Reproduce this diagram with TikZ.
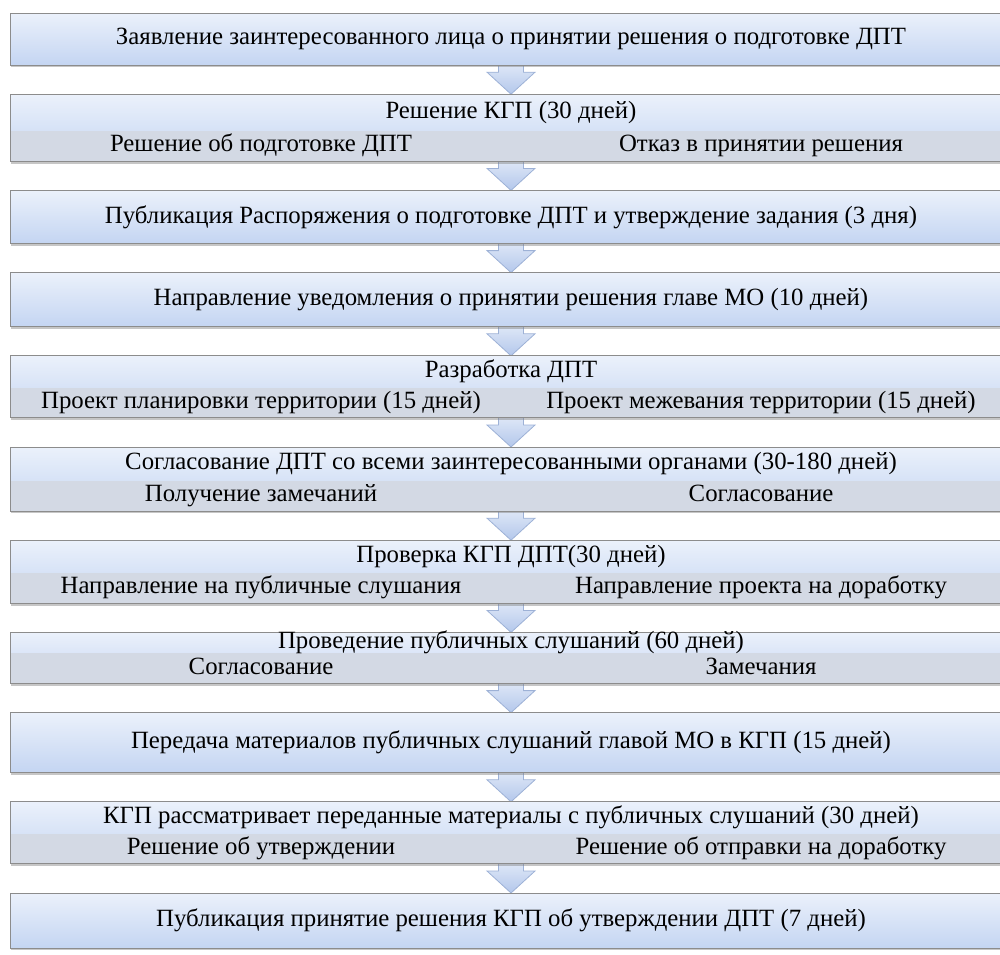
\documentclass[tikz,border=0pt]{standalone}
\usepackage{fontspec}
\setmainfont{Liberation Serif}
\usetikzlibrary{positioning,calc,shadows}
\pgfdeclarelayer{background}
\pgfsetlayers{background,main}

\definecolor{boxtop}{HTML}{EBF1FB}
\definecolor{boxbot}{HTML}{C4D5F2}
\definecolor{bandgray}{HTML}{D3D9E4}
\definecolor{arrtop}{HTML}{E6EDF9}
\definecolor{arrbot}{HTML}{B3C7EB}
\definecolor{arrline}{HTML}{9DB1D6}
\definecolor{edgegray}{HTML}{8C8C8C}

\tikzset{
  box/.style={rectangle, draw=edgegray, line width=0.5pt, top color=boxtop, bottom color=boxbot,
    minimum width=501pt, inner sep=0pt, outer sep=0pt,
    drop shadow={opacity=0.45, shadow xshift=0.6pt, shadow yshift=-1.2pt}},
  band/.style={fill=bandgray},
  sub/.style={inner sep=0pt, text height=8.2pt, text depth=2.6pt},
  blockarrow/.style={draw=arrline, line width=0.4pt, top color=arrtop, bottom color=arrbot}
}

\newcommand{\splitbox}[4]{%
  \fill[band] ([shift={(0.25pt,0.25pt)}]#1.south west) rectangle ([shift={(-0.25pt,15pt)}]#1.south east);
  \path (#1.north) -- ([yshift=15pt]#1.south) node[sub, midway] (#1h) {#2};
  \node[sub] (#1l) at ([xshift=-125pt,yshift=7.5pt]#1.south) {#3};
  \node[sub] (#1r) at ([xshift=125pt,yshift=7.5pt]#1.south) {#4};}

\newcommand{\steparrow}[2]{%
  \path[blockarrow] let \p1=(#1.south), \p2=(#2.north) in
    (\x1-6.25pt,\y1+3pt) -- (\x1-6.25pt,\y2+11pt) -- (\x1-12pt,\y2+11pt) -- (\x1,\y2)
    -- (\x1+12pt,\y2+11pt) -- (\x1+6.25pt,\y2+11pt) -- (\x1+6.25pt,\y1+3pt) -- cycle;}

\begin{document}
\begin{tikzpicture}[node distance=14.6pt, font=\fontsize{12.4}{14}\selectfont]
\useasboundingbox (0,0) rectangle (500pt,-477pt);

\node[box, minimum height=26pt, anchor=north] (b1) at (255.5pt,-6.5pt)
  {Заявление заинтересованного лица о принятии решения о подготовке ДПТ};
\node[box, minimum height=33.5pt] (b2) [below=of b1] {};
\splitbox{b2}{Решение КГП (30 дней)}{Решение об подготовке ДПТ}{Отказ в принятии решения}
\node[box, minimum height=26.5pt] (b3) [below=of b2]
  {Публикация Распоряжения о подготовке ДПТ и утверждение задания (3 дня)};
\node[box, minimum height=27pt] (b4) [below=of b3]
  {Направление уведомления о принятии решения главе МО (10 дней)};
\node[box, minimum height=31pt] (b5) [below=of b4] {};
\splitbox{b5}{Разработка ДПТ}{Проект планировки территории (15 дней)}{Проект межевания территории (15 дней)}
\node[box, minimum height=32pt] (b6) [below=of b5] {};
\splitbox{b6}{Согласование ДПТ со всеми заинтересованными органами (30-180 дней)}{Получение замечаний}{Согласование}
\node[box, minimum height=31.5pt] (b7) [below=of b6] {};
\splitbox{b7}{Проверка КГП ДПТ(30 дней)}{Направление на публичные слушания}{Направление проекта на доработку}
\node[box, minimum height=25.5pt] (b8) [below=of b7] {};
\splitbox{b8}{Проведение публичных слушаний (60 дней)}{Согласование}{Замечания}
\node[box, minimum height=30pt] (b9) [below=of b8]
  {Передача материалов публичных слушаний главой МО в КГП (15 дней)};
\node[box, minimum height=31pt] (b10) [below=of b9] {};
\splitbox{b10}{КГП рассматривает переданные материалы с публичных слушаний (30 дней)}{Решение об утверждении}{Решение об отправки на доработку}
\node[box, minimum height=27.5pt] (b11) [below=of b10]
  {Публикация принятие решения КГП об утверждении ДПТ (7 дней)};

\begin{pgfonlayer}{background}
\foreach \a/\b in {b1/b2, b2/b3, b3/b4, b4/b5, b5/b6, b6/b7, b7/b8, b8/b9, b9/b10, b10/b11}
  {\steparrow{\a}{\b}}
\end{pgfonlayer}

\end{tikzpicture}
\end{document}
